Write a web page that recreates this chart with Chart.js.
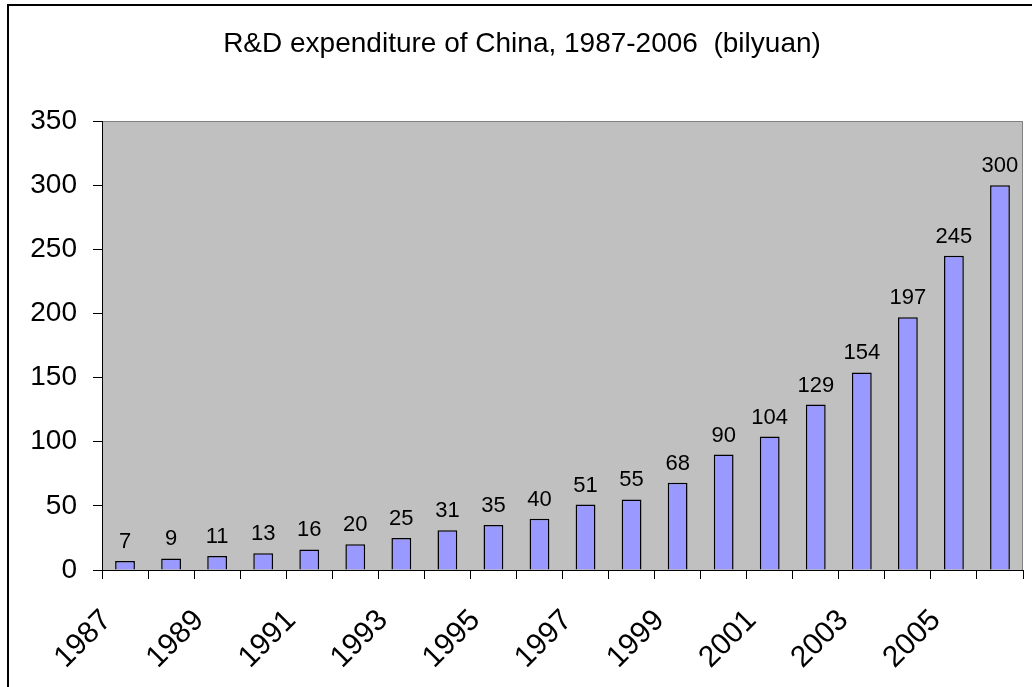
<!DOCTYPE html>
<html>
<head>
<meta charset="utf-8">
<script src="https://cdn.jsdelivr.net/npm/chart.js@4/dist/chart.umd.min.js"></script>
<style>
  body { margin: 0; background: #fff; }
  canvas { display: block; }
</style>
</head>
<body>
<canvas id="grafico" width="1032" height="687"></canvas>
<script>
// dados
const anos = ['1987', '1988', '1989', '1990', '1991', '1992', '1993', '1994', '1995', '1996',
              '1997', '1998', '1999', '2000', '2001', '2002', '2003', '2004', '2005', '2006'];
const gastos = [7, 9, 11, 13, 16, 20, 25, 31, 35, 40, 51, 55, 68, 90, 104, 129, 154, 197, 245, 300];
const titulo = 'R&D expenditure of China, 1987-2006  (bilyuan)';
const eixoY = { min: 0, max: 350, passo: 50 };

const fonte = '"Liberation Sans", Arial, sans-serif';

// fundo, moldura e título
const fundo = {
    id: 'fundo',
    beforeDraw(chart) {
        const ctx = chart.ctx;
        const a = chart.chartArea;
        ctx.save();
        ctx.fillStyle = '#ffffff';
        ctx.fillRect(0, 0, chart.width, chart.height);
        // moldura externa (só esquerda e topo aparecem)
        ctx.strokeStyle = '#000000';
        ctx.lineWidth = 2;
        ctx.beginPath();
        ctx.moveTo(8, chart.height);
        ctx.lineTo(8, 5);
        ctx.lineTo(chart.width, 5);
        ctx.stroke();
        // área do gráfico
        ctx.fillStyle = '#c0c0c0';
        ctx.fillRect(a.left, a.top, a.right - a.left, a.bottom - a.top);
        ctx.strokeStyle = '#808080';
        ctx.lineWidth = 1;
        ctx.beginPath();
        ctx.moveTo(a.left, a.top + 0.5);
        ctx.lineTo(a.right - 0.5, a.top + 0.5);
        ctx.lineTo(a.right - 0.5, a.bottom);
        ctx.stroke();
        // título
        ctx.fillStyle = '#000000';
        ctx.font = '28px ' + fonte;
        ctx.textAlign = 'center';
        ctx.textBaseline = 'alphabetic';
        ctx.fillText(titulo, 522, 52);
        ctx.restore();
    }
};

// valores acima das barras
const rotulos = {
    id: 'rotulos',
    afterDatasetsDraw(chart) {
        const ctx = chart.ctx;
        const meta = chart.getDatasetMeta(0);
        ctx.save();
        ctx.fillStyle = '#000000';
        ctx.font = '22px ' + fonte;
        ctx.textAlign = 'center';
        ctx.textBaseline = 'alphabetic';
        meta.data.forEach((barra, i) => {
            ctx.fillText(String(gastos[i]), barra.x, barra.y - 13);
        });
        ctx.restore();
    }
};

new Chart(document.getElementById('grafico').getContext('2d'), {
    type: 'bar',
    data: {
        labels: anos,
        datasets: [{
            data: gastos,
            backgroundColor: '#9999ff',
            borderColor: '#000000',
            borderWidth: 1.5,
            categoryPercentage: 1,
            barPercentage: 0.43
        }]
    },
    options: {
        responsive: false,
        animation: false,
        devicePixelRatio: 1,
        layout: {
            padding: { left: 0, right: 9, top: 121, bottom: 0 }
        },
        plugins: {
            legend: { display: false },
            title: { display: false },
            tooltip: { enabled: false }
        },
        scales: {
            x: {
                grid: {
                    offset: true,
                    drawOnChartArea: false,
                    tickLength: 9,
                    color: '#000000'
                },
                border: { color: '#000000', width: 1 },
                ticks: {
                    autoSkip: false,
                    maxRotation: 45,
                    minRotation: 45,
                    padding: 24,
                    labelOffset: -18,
                    color: '#000000',
                    font: { family: fonte, size: 30 },
                    callback: function(valor, indice) {
                        return indice % 2 === 0 ? anos[indice] : '';
                    }
                },
                afterFit(escala) {
                    escala.height = 117;
                    // sem folga extra para os rótulos inclinados
                    escala.paddingLeft = 0;
                    escala.paddingRight = 0;
                }
            },
            y: {
                min: eixoY.min,
                max: eixoY.max,
                grid: {
                    drawOnChartArea: false,
                    tickLength: 9,
                    color: '#000000'
                },
                border: { color: '#000000', width: 1 },
                ticks: {
                    stepSize: eixoY.passo,
                    padding: 16,
                    color: '#000000',
                    font: { family: fonte, size: 28 }
                },
                afterFit(escala) { escala.width = 102; }
            }
        }
    },
    plugins: [fundo, rotulos]
});
</script>
</body>
</html>
